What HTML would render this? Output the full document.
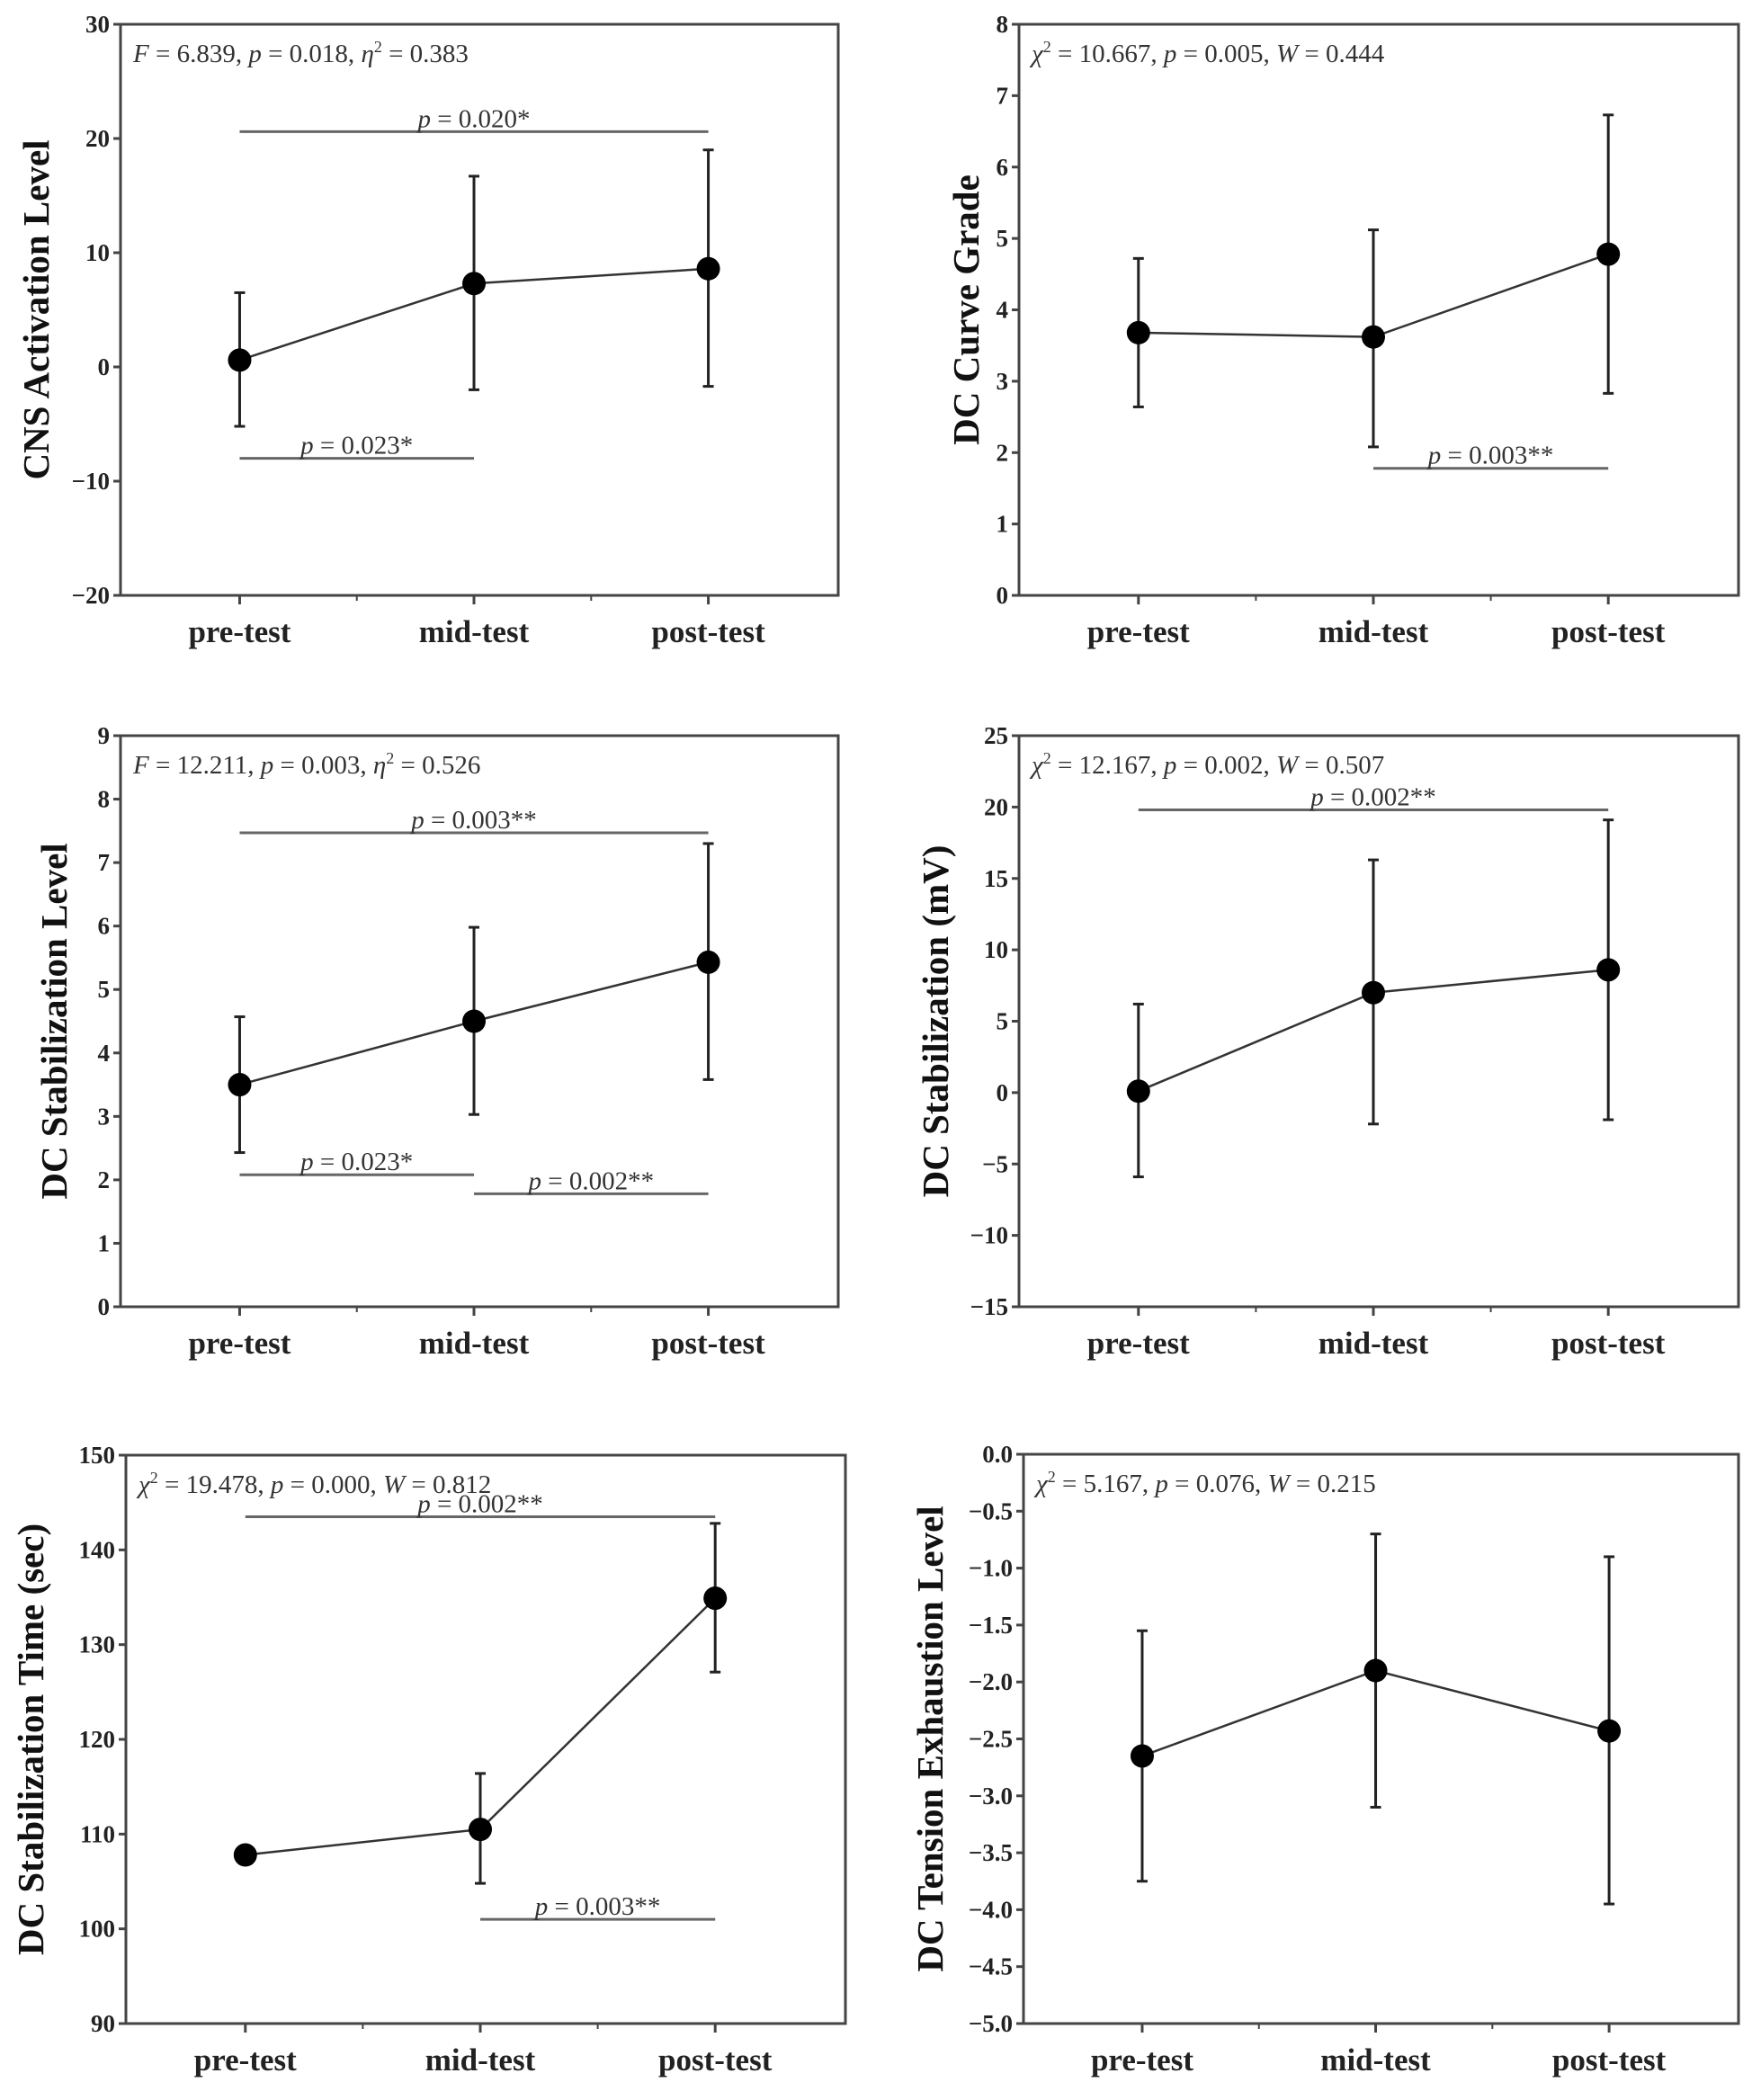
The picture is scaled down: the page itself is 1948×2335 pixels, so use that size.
<!DOCTYPE html>
<html><head><meta charset="utf-8"><style>
html,body{margin:0;padding:0;background:#fff;}
svg{display:block;font-family:"Liberation Serif","Times New Roman",serif;}
</style></head><body>
<svg id="fig" width="1948" height="2335" viewBox="0 0 1948 2335" xmlns="http://www.w3.org/2000/svg"></svg>
<script>
// ---- data ----
const categories = ["pre-test","mid-test","post-test"];

const p1Means = [0.6, 7.3, 8.6];
const p1Upper = [6.5, 16.7, 19.0];
const p1Lower = [-5.2, -2.0, -1.7];
const p1Ticks = [-20,-10,0,10,20,30];

const p2Means = [3.68, 3.62, 4.78];
const p2Upper = [4.72, 5.12, 6.73];
const p2Lower = [2.64, 2.08, 2.83];
const p2Ticks = [0,1,2,3,4,5,6,7,8];

const p3Means = [3.5, 4.5, 5.43];
const p3Upper = [4.57, 5.98, 7.3];
const p3Lower = [2.43, 3.03, 3.58];
const p3Ticks = [0,1,2,3,4,5,6,7,8,9];

const p4Means = [0.1, 7.0, 8.6];
const p4Upper = [6.2, 16.3, 19.1];
const p4Lower = [-5.9, -2.2, -1.9];
const p4Ticks = [-15,-10,-5,0,5,10,15,20,25];

const p5Means = [107.8, 110.5, 134.9];
const p5Upper = [107.8, 116.4, 142.8];
const p5Lower = [107.8, 104.8, 127.1];
const p5Ticks = [90,100,110,120,130,140,150];

const p6Means = [-2.65, -1.9, -2.43];
const p6Upper = [-1.55, -0.7, -0.9];
const p6Lower = [-3.75, -3.1, -3.95];
const p6Ticks = ["0.0","-0.5","-1.0","-1.5","-2.0","-2.5","-3.0","-3.5","-4.0","-4.5","-5.0"];

const svg = document.getElementById('fig');
const NS = "http://www.w3.org/2000/svg";
function mk(tag, attrs, parent){
  const e = document.createElementNS(NS, tag);
  for (const k in attrs) e.setAttribute(k, attrs[k]);
  (parent||svg).appendChild(e);
  return e;
}

function panel(cfg){
  const g = mk('g', {});
  
  
  const L=cfg.l, R=cfg.r, T=cfg.t, B=cfg.b;
  const ymin=cfg.ymin, ymax=cfg.ymax;
  const ys = v => B - (v - ymin)/(ymax - ymin)*(B - T);
  const xs = i => L + (0.166 + i*0.3265)*(R - L);
  const fr = mk('rect', {x:L, y:T, width:R-L, height:B-T, fill:'none', stroke:'#444', 'stroke-width':3}, g);
  
  
  cfg.ticks.forEach(t => {
    const v = parseFloat(t);
    const y = ys(v);
    mk('line', {x1:L-8, x2:L, y1:y, y2:y, stroke:'#444', 'stroke-width':3}, g);
    const lab = mk('text', {x:L-12, y:y+9, 'text-anchor':'end', 'font-size':27, 'font-weight':'bold', fill:'#222'}, g);
    
    
    lab.textContent = String(t).replace('-', '\u2212');
  });
  for (let k = 0; k < 3; k++) {
    const x = xs(k);
    mk('line', {x1:x, x2:x, y1:B, y2:B+10, stroke:'#444', 'stroke-width':3}, g);
    const lab = mk('text', {x:x, y:B+52, 'text-anchor':'middle', 'font-size':35, 'font-weight':'bold', fill:'#222'}, g);
    
    
    lab.textContent = categories[k];
  }
  [0,1].forEach(k => {
    const x = (xs(k) + xs(k+1))/2;
    mk('line', {x1:x, x2:x, y1:B, y2:B+6, stroke:'#444', 'stroke-width':2}, g);
  });
  const yt = mk('text', {x:0, y:0, 'text-anchor':'middle', 'font-size':41, 'font-weight':'bold', fill:'#111',
    transform:`translate(${cfg.titleX},${(T+B)/2}) rotate(-90)`}, g);
  
  
  yt.textContent = cfg.title;
  const st = mk('text', {x:L+14, y:T+42, 'font-size':29, fill:'#333'}, g);
  
  
  st.innerHTML = cfg.stat;
  cfg.brackets.forEach(br => {
    const y = ys(br.y);
    const ln = mk('line', {x1:xs(br.a), x2:xs(br.b), y1:y, y2:y, stroke:'#666', 'stroke-width':3}, g);
    
    
    const tx = mk('text', {x:(xs(br.a)+xs(br.b))/2, y:y-5, 'text-anchor':'middle', 'font-size':29, fill:'#333'}, g);
    
    
    tx.innerHTML = '<tspan font-style="italic">p</tspan> = ' + br.label;
  });
  for (let k = 0; k < 3; k++) {
    const x = xs(k);
    const e = mk('g', {}, g);
    
    
    if (cfg.upper[k] !== cfg.lower[k]) {
      mk('line', {x1:x, x2:x, y1:ys(cfg.upper[k]), y2:ys(cfg.lower[k]), stroke:'#222', 'stroke-width':3}, e);
      mk('line', {x1:x-6, x2:x+6, y1:ys(cfg.upper[k]), y2:ys(cfg.upper[k]), stroke:'#222', 'stroke-width':3}, e);
      mk('line', {x1:x-6, x2:x+6, y1:ys(cfg.lower[k]), y2:ys(cfg.lower[k]), stroke:'#222', 'stroke-width':3}, e);
    }
  }
  const pts = cfg.means.map((v,k) => xs(k) + ',' + ys(v)).join(' ');
  const pl = mk('polyline', {points:pts, fill:'none', stroke:'#333', 'stroke-width':2.5}, g);
  
  
  cfg.means.forEach((v,k) => {
    const c = mk('circle', {cx:xs(k), cy:ys(v), r:13, fill:'#000'}, g);
    
    
  });
}

const chi = '<tspan font-style="italic">χ</tspan><tspan dy="-11" font-size="18">2</tspan><tspan dy="11"> = ';
panel({name:'panel-cns-activation', l:134, r:932, t:27, b:662, ymin:-20, ymax:30, ticks:p1Ticks, titleX:54,
  title:'CNS Activation Level', means:p1Means, upper:p1Upper, lower:p1Lower,
  stat:'<tspan font-style="italic">F</tspan> = 6.839, <tspan font-style="italic">p</tspan> = 0.018, <tspan font-style="italic">η</tspan><tspan dy="-11" font-size="18">2</tspan><tspan dy="11"> = 0.383</tspan>',
  brackets:[{a:0,b:2,y:20.6,label:'0.020*'},{a:0,b:1,y:-8,label:'0.023*'}]});
panel({name:'panel-dc-curve-grade', l:1133, r:1933, t:27, b:662, ymin:0, ymax:8, ticks:p2Ticks, titleX:1088,
  title:'DC Curve Grade', means:p2Means, upper:p2Upper, lower:p2Lower,
  stat:chi+'10.667, </tspan><tspan font-style="italic">p</tspan> = 0.005, <tspan font-style="italic">W</tspan> = 0.444',
  brackets:[{a:1,b:2,y:1.78,label:'0.003**'}]});
panel({name:'panel-dc-stabilization-level', l:134, r:932, t:818, b:1453, ymin:0, ymax:9, ticks:p3Ticks, titleX:74,
  title:'DC Stabilization Level', means:p3Means, upper:p3Upper, lower:p3Lower,
  stat:'<tspan font-style="italic">F</tspan> = 12.211, <tspan font-style="italic">p</tspan> = 0.003, <tspan font-style="italic">η</tspan><tspan dy="-11" font-size="18">2</tspan><tspan dy="11"> = 0.526</tspan>',
  brackets:[{a:0,b:2,y:7.47,label:'0.003**'},{a:0,b:1,y:2.08,label:'0.023*'},{a:1,b:2,y:1.78,label:'0.002**'}]});
panel({name:'panel-dc-stabilization-mv', l:1133, r:1933, t:818, b:1453, ymin:-15, ymax:25, ticks:p4Ticks, titleX:1054,
  title:'DC Stabilization (mV)', means:p4Means, upper:p4Upper, lower:p4Lower,
  stat:chi+'12.167, </tspan><tspan font-style="italic">p</tspan> = 0.002, <tspan font-style="italic">W</tspan> = 0.507',
  brackets:[{a:0,b:2,y:19.8,label:'0.002**'}]});
panel({name:'panel-dc-stabilization-time', l:140, r:940, t:1618, b:2250, ymin:90, ymax:150, ticks:p5Ticks, titleX:48,
  title:'DC Stabilization Time (sec)', means:p5Means, upper:p5Upper, lower:p5Lower,
  stat:chi+'19.478, </tspan><tspan font-style="italic">p</tspan> = 0.000, <tspan font-style="italic">W</tspan> = 0.812',
  brackets:[{a:0,b:2,y:143.5,label:'0.002**'},{a:1,b:2,y:101,label:'0.003**'}]});
panel({name:'panel-dc-tension-exhaustion', l:1138, r:1933, t:1617, b:2250, ymin:-5, ymax:0, ticks:p6Ticks, titleX:1048,
  title:'DC Tension Exhaustion Level', means:p6Means, upper:p6Upper, lower:p6Lower,
  stat:chi+'5.167, </tspan><tspan font-style="italic">p</tspan> = 0.076, <tspan font-style="italic">W</tspan> = 0.215',
  brackets:[]});
</script>
</body></html>
